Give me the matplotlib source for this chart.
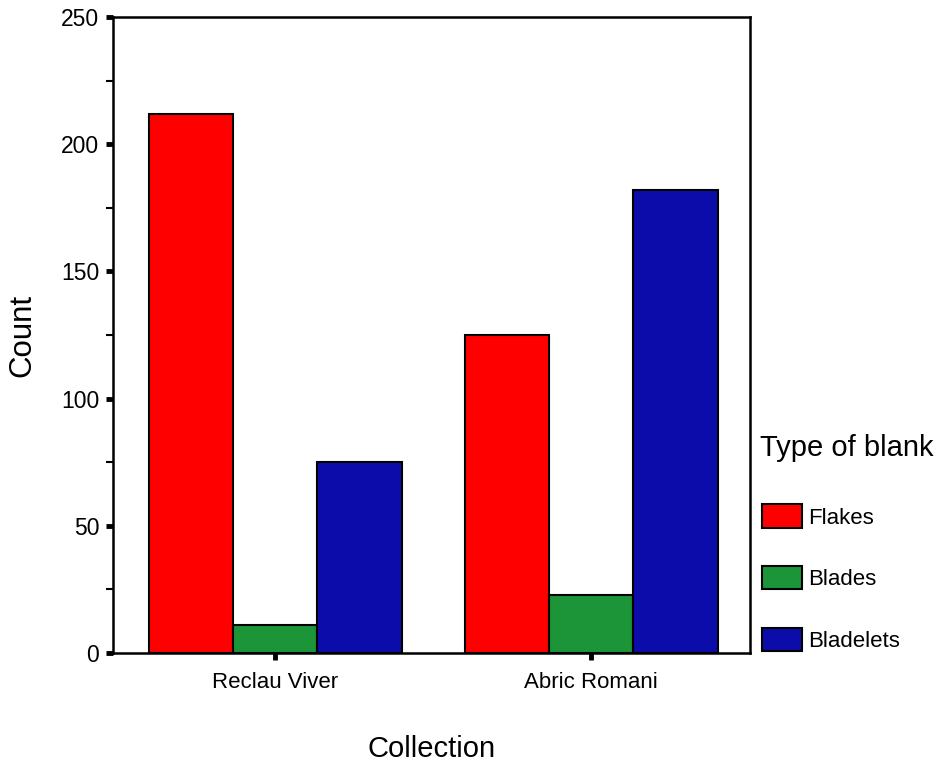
import numpy as np
import matplotlib
matplotlib.use("Agg")
import matplotlib.pyplot as plt
from matplotlib.ticker import MultipleLocator

plt.rcParams["font.family"] = ["Liberation Sans", "DejaVu Sans"]

# datos
collections = ["Reclau Viver", "Abric Romani"]
blank_types = ["Flakes", "Blades", "Bladelets"]
flakes = [212, 125]
blades = [11, 23]
bladelets = [75, 182]

colors = ["#ff0000", "#1c9438", "#0c0caa"]

fig = plt.figure(figsize=(9.35, 7.68), dpi=100)
ax = fig.add_axes([0.1209, 0.1497, 0.6813, 0.828])

x = np.arange(len(collections))
width = 0.267
series = [flakes, blades, bladelets]
for i, (name, vals) in enumerate(zip(blank_types, series)):
    ax.bar(x + (i - 1) * width, vals, width, color=colors[i], edgecolor="black",
           linewidth=1.5, label=name)

ax.set_xlim(-0.513, 1.503)
ax.set_ylim(0, 250)
ax.set_xticks(x)
ax.set_xticklabels(collections, fontsize=16)
ax.yaxis.set_major_locator(MultipleLocator(50))
ax.yaxis.set_minor_locator(MultipleLocator(25))
ax.tick_params(axis="y", which="major", direction="out", length=5, width=3.5,
               labelsize=16.5, pad=5)
ax.tick_params(axis="y", which="minor", direction="out", length=5, width=1.5)
ax.tick_params(axis="x", direction="out", length=5, width=3.5, pad=9)

for sp in ax.spines.values():
    sp.set_linewidth(1.8)

ax.set_ylabel("Count", fontsize=22.5, labelpad=17)
ax.set_xlabel("Collection", fontsize=21, labelpad=30)

# título de la leyenda aparte para controlar el espacio
fig.text(0.8128, 0.4167, "Type of blank", fontsize=21, ha="left", va="center")
fig.legend(loc="upper left", bbox_to_anchor=(0.806, 0.3547), frameon=False,
           fontsize=16, handlelength=1.8, handleheight=1.22, handletextpad=0.25,
           labelspacing=1.69, borderaxespad=0)

fig.savefig("out.png", dpi=100, facecolor="white")
